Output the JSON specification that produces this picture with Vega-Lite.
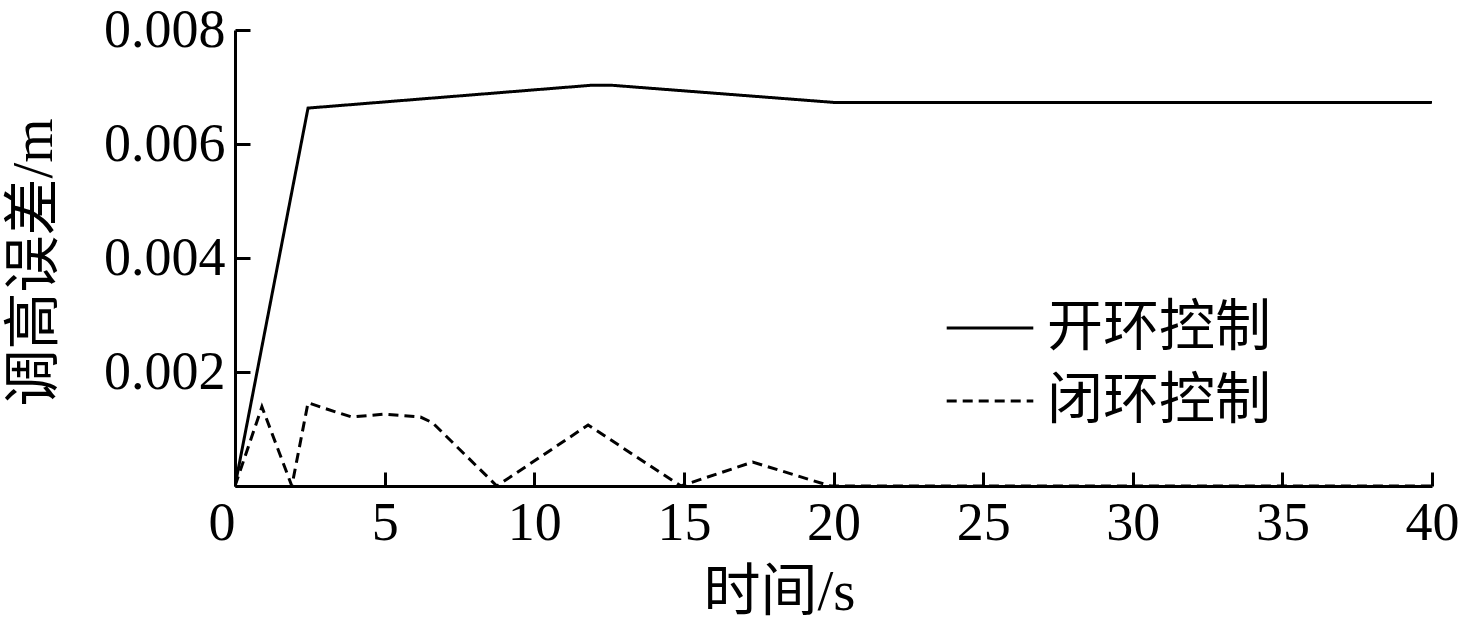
{
  "$schema": "https://vega.github.io/schema/vega-lite/v6.json",
  "autosize": "none",
  "width": 1197,
  "height": 456,
  "padding": {"left": 235, "top": 30, "right": 27, "bottom": 146},
  "background": "white",
  "config": {
    "view": {"stroke": null},
    "axis": {
      "grid": false,
      "domainColor": "black",
      "domainWidth": 3,
      "tickColor": "black",
      "tickWidth": 3,
      "labelColor": "black",
      "titleColor": "black",
      "labelFont": "Liberation Serif",
      "titleFont": "Liberation Serif, Noto Sans CJK SC",
      "titleFontWeight": "normal",
      "labelFontSize": 54,
      "titleFontSize": 57
    }
  },
  "data": {
    "values": [
      {"t": 0, "v": 0, "s": "开环控制"},
      {"t": 2.44, "v": 0.00663, "s": "开环控制"},
      {"t": 11.9, "v": 0.00703, "s": "开环控制"},
      {"t": 12.6, "v": 0.00703, "s": "开环控制"},
      {"t": 20, "v": 0.00673, "s": "开环控制"},
      {"t": 40, "v": 0.00673, "s": "开环控制"},
      {"t": 0, "v": 0, "s": "闭环控制"},
      {"t": 0.9, "v": 0.00139, "s": "闭环控制"},
      {"t": 1.9, "v": 0, "s": "闭环控制"},
      {"t": 2.44, "v": 0.00146, "s": "闭环控制"},
      {"t": 2.95, "v": 0.00137, "s": "闭环控制"},
      {"t": 3.9, "v": 0.00121, "s": "闭环控制"},
      {"t": 5.0, "v": 0.00126, "s": "闭环控制"},
      {"t": 6.2, "v": 0.00121, "s": "闭环控制"},
      {"t": 6.6, "v": 0.00111, "s": "闭环控制"},
      {"t": 8.75, "v": 0, "s": "闭环控制"},
      {"t": 11.8, "v": 0.00107, "s": "闭环控制"},
      {"t": 14.9, "v": 0, "s": "闭环控制"},
      {"t": 17.3, "v": 0.00042, "s": "闭环控制"},
      {"t": 19.9, "v": 0, "s": "闭环控制"},
      {"t": 40, "v": 0, "s": "闭环控制"}
    ]
  },
  "mark": {"type": "line", "strokeWidth": 3, "color": "black", "clip": true},
  "encoding": {
    "x": {
      "field": "t",
      "type": "quantitative",
      "scale": {"domain": [0, 40], "nice": false, "zero": false},
      "axis": {
        "title": "时间/s",
        "values": [0, 5, 10, 15, 20, 25, 30, 35, 40],
        "tickSize": -14,
        "labelPadding": 24,
        "labelExpr": "datum.value === 0 ? '0 ' : datum.label",
        "labelAlign": {"expr": "datum.value === 0 ? 'right' : 'center'"},
        "labelFlush": false,
        "labelOverlap": false,
        "titleX": 544,
        "titleY": 106,
        "titleBaseline": "middle",
        "titleAnchor": null
      }
    },
    "y": {
      "field": "v",
      "type": "quantitative",
      "scale": {"domain": [0, 0.008], "nice": false},
      "axis": {
        "title": "调高误差/m",
        "values": [0, 0.002, 0.004, 0.006, 0.008],
        "format": ".3f",
        "labelExpr": "datum.value === 0 ? '' : datum.label",
        "tickSize": -15,
        "labelPadding": 25,
        "labelFlush": false,
        "labelOverlap": false,
        "titleX": -201,
        "titleY": 232,
        "titleBaseline": "middle",
        "titleAngle": -90
      }
    },
    "strokeDash": {
      "field": "s",
      "type": "nominal",
      "scale": {"domain": ["开环控制", "闭环控制"], "range": [[1, 0], [10, 6]]},
      "legend": {
        "title": null,
        "orient": "none",
        "legendX": 710,
        "legendY": 253,
        "symbolType": "stroke",
        "symbolSize": 7500,
        "symbolStrokeWidth": 3,
        "symbolStrokeColor": "black",
        "labelFont": "Noto Sans CJK SC",
        "labelFontSize": 56,
        "labelColor": "black",
        "labelOffset": 12,
        "labelLimit": 400,
        "rowPadding": 0
      }
    }
  }
}
